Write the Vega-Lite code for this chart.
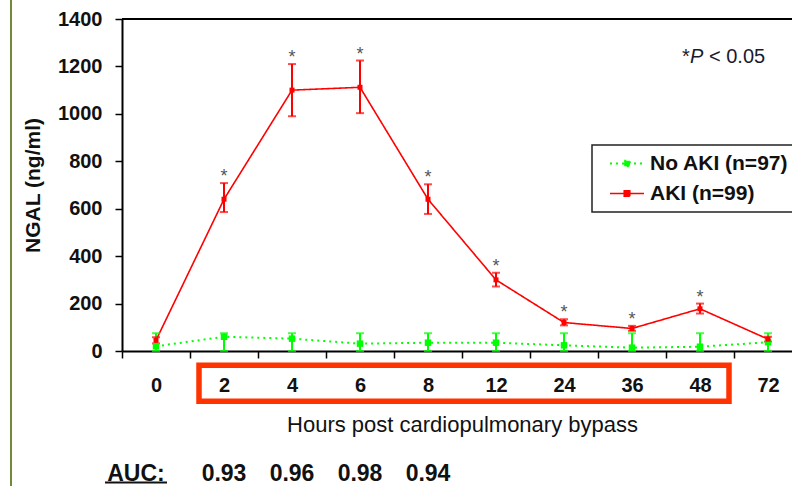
{
  "$schema": "https://vega.github.io/schema/vega-lite/v6.json",
  "width": 670,
  "height": 332,
  "autosize": {"type": "none"},
  "padding": {"left": 122, "top": 19, "right": 0, "bottom": 135},
  "background": "white",
  "config": {
    "font": "Liberation Sans",
    "view": {"stroke": null},
    "legend": {
      "orient": "none",
      "legendX": 470,
      "legendY": 126,
      "title": null,
      "labelFont": "Liberation Sans",
      "labelFontWeight": "bold",
      "labelFontSize": 21,
      "labelColor": "#111111",
      "labelOffset": 29,
      "strokeColor": "#222222",
      "strokeWidth": 1.5,
      "fillColor": "white",
      "padding": 8,
      "rowPadding": 8,
      "symbolSize": 121,
      "symbolStrokeWidth": 1.6
    }
  },
  "datasets": {
    "ngal": [
      {"hour": "0", "group": "AKI (n=99)", "mean": 45, "lo": 32, "hi": 58, "sig": false},
      {"hour": "2", "group": "AKI (n=99)", "mean": 640, "lo": 586, "hi": 708, "sig": true},
      {"hour": "4", "group": "AKI (n=99)", "mean": 1100, "lo": 990, "hi": 1210, "sig": true},
      {"hour": "6", "group": "AKI (n=99)", "mean": 1112, "lo": 1003, "hi": 1225, "sig": true},
      {"hour": "8", "group": "AKI (n=99)", "mean": 640, "lo": 578, "hi": 703, "sig": true},
      {"hour": "12", "group": "AKI (n=99)", "mean": 300, "lo": 272, "hi": 330, "sig": true},
      {"hour": "24", "group": "AKI (n=99)", "mean": 120, "lo": 108, "hi": 134, "sig": true},
      {"hour": "36", "group": "AKI (n=99)", "mean": 95, "lo": 85, "hi": 106, "sig": true},
      {"hour": "48", "group": "AKI (n=99)", "mean": 178, "lo": 158, "hi": 200, "sig": true},
      {"hour": "72", "group": "AKI (n=99)", "mean": 50, "lo": 40, "hi": 60, "sig": false},
      {"hour": "0", "group": "No AKI (n=97)", "mean": 20, "lo": 0, "hi": 75, "sig": false},
      {"hour": "2", "group": "No AKI (n=97)", "mean": 60, "lo": 0, "hi": 75, "sig": false},
      {"hour": "4", "group": "No AKI (n=97)", "mean": 52, "lo": 0, "hi": 75, "sig": false},
      {"hour": "6", "group": "No AKI (n=97)", "mean": 31, "lo": 0, "hi": 75, "sig": false},
      {"hour": "8", "group": "No AKI (n=97)", "mean": 35, "lo": 0, "hi": 75, "sig": false},
      {"hour": "12", "group": "No AKI (n=97)", "mean": 35, "lo": 0, "hi": 75, "sig": false},
      {"hour": "24", "group": "No AKI (n=97)", "mean": 24, "lo": 0, "hi": 75, "sig": false},
      {"hour": "36", "group": "No AKI (n=97)", "mean": 14, "lo": 0, "hi": 75, "sig": false},
      {"hour": "48", "group": "No AKI (n=97)", "mean": 18, "lo": 0, "hi": 75, "sig": false},
      {"hour": "72", "group": "No AKI (n=97)", "mean": 37, "lo": 0, "hi": 75, "sig": false}
    ],
    "auc": [
      {"hour": "2", "auc": "0.93"},
      {"hour": "4", "auc": "0.96"},
      {"hour": "6", "auc": "0.98"},
      {"hour": "8", "auc": "0.94"}
    ]
  },
  "layer": [
    {
      "data": {"name": "ngal"},
      "mark": {"type": "line"},
      "encoding": {
        "x": {
          "field": "hour",
          "type": "ordinal",
          "sort": null,
          "scale": {
            "domain": ["0", "2", "4", "6", "8", "12", "24", "36", "48", "72"],
            "range": [0, 680],
            "paddingInner": 0,
            "paddingOuter": 0
          },
          "axis": {
            "title": "Hours post cardiopulmonary bypass",
            "labelAngle": 0,
            "tickBand": "extent",
            "grid": false,
            "domainColor": "#000000",
            "domainWidth": 2,
            "tickColor": "#000000",
            "tickWidth": 1.5,
            "tickSize": 7,
            "labelFontSize": 20,
            "labelFontWeight": "bold",
            "labelColor": "#111111",
            "labelPadding": 17,
            "titleFontSize": 22,
            "titleFontWeight": "normal",
            "titleColor": "#111111",
            "titlePadding": 19
          }
        },
        "y": {
          "field": "mean",
          "type": "quantitative",
          "scale": {"domain": [0, 1400], "nice": false},
          "axis": {
            "title": "NGAL (ng/ml)",
            "values": [0, 200, 400, 600, 800, 1000, 1200, 1400],
            "format": "d",
            "grid": false,
            "domainColor": "#000000",
            "domainWidth": 2,
            "tickColor": "#000000",
            "tickWidth": 1.5,
            "tickSize": 7,
            "labelFontSize": 20,
            "labelFontWeight": "bold",
            "labelColor": "#111111",
            "labelPadding": 13,
            "titleFontSize": 21,
            "titleFontWeight": "bold",
            "titleColor": "#111111",
            "titlePadding": 14
          }
        },
        "color": {
          "field": "group",
          "type": "nominal",
          "scale": {"domain": ["No AKI (n=97)", "AKI (n=99)"], "range": ["#00FF00", "#FF0000"]},
          "legend": {
            "symbolType": "M-0.09,0H6.09M2.5,-0.5H3.5V0.5H2.5Z",
            "encode": {
              "symbols": {
                "update": {
                  "shape": {"value": "M-0.09,0H6.09M2.5,-0.5H3.5V0.5H2.5Z"},
                  "size": {"value": 121},
                  "fill": {"scale": "color", "field": "value"}
                }
              }
            }
          }
        },
        "strokeDash": {
          "field": "group",
          "type": "nominal",
          "scale": {"domain": ["No AKI (n=97)", "AKI (n=99)"], "range": [[2, 4], [1, 0]]},
          "legend": {
            "symbolType": "M-0.09,0H6.09M2.5,-0.5H3.5V0.5H2.5Z",
            "encode": {
              "symbols": {
                "update": {
                  "shape": {"value": "M-0.09,0H6.09M2.5,-0.5H3.5V0.5H2.5Z"},
                  "size": {"value": 121},
                  "fill": {"scale": "color", "field": "value"}
                }
              }
            }
          }
        },
        "strokeWidth": {
          "field": "group",
          "type": "nominal",
          "scale": {"domain": ["No AKI (n=97)", "AKI (n=99)"], "range": [2, 1.6]},
          "legend": null
        }
      }
    },
    {
      "data": {"name": "ngal"},
      "mark": {"type": "rule", "strokeWidth": 2},
      "encoding": {
        "x": {"field": "hour", "type": "ordinal", "sort": null},
        "y": {"field": "lo", "type": "quantitative"},
        "y2": {"field": "hi"},
        "color": {"field": "group", "type": "nominal"}
      }
    },
    {
      "data": {"name": "ngal"},
      "mark": {"type": "tick", "size": 8, "thickness": 2},
      "encoding": {
        "x": {"field": "hour", "type": "ordinal", "sort": null},
        "y": {"field": "hi", "type": "quantitative"},
        "color": {"field": "group", "type": "nominal"}
      }
    },
    {
      "data": {"name": "ngal"},
      "mark": {"type": "tick", "size": 8, "thickness": 2},
      "encoding": {
        "x": {"field": "hour", "type": "ordinal", "sort": null},
        "y": {"field": "lo", "type": "quantitative"},
        "color": {"field": "group", "type": "nominal"}
      }
    },
    {
      "data": {"name": "ngal"},
      "transform": [{"filter": "datum.group === 'No AKI (n=97)'"}],
      "mark": {"type": "point", "shape": "square", "filled": true, "opacity": 1, "size": 42},
      "encoding": {
        "x": {"field": "hour", "type": "ordinal", "sort": null},
        "y": {"field": "mean", "type": "quantitative"},
        "color": {"field": "group", "type": "nominal"}
      }
    },
    {
      "data": {"name": "ngal"},
      "transform": [{"filter": "datum.group === 'AKI (n=99)'"}],
      "mark": {"type": "point", "shape": "square", "filled": true, "opacity": 1, "size": 25},
      "encoding": {
        "x": {"field": "hour", "type": "ordinal", "sort": null},
        "y": {"field": "mean", "type": "quantitative"},
        "color": {"field": "group", "type": "nominal"}
      }
    },
    {
      "data": {"name": "ngal"},
      "transform": [{"filter": "datum.sig"}],
      "mark": {"type": "text", "text": "*", "fontSize": 18, "baseline": "alphabetic", "dy": -1, "color": "#555555"},
      "encoding": {
        "x": {"field": "hour", "type": "ordinal", "sort": null},
        "y": {"field": "hi", "type": "quantitative"}
      }
    },
    {
      "data": {"values": [{}]},
      "mark": {"type": "rule", "color": "#000000", "strokeWidth": 2},
      "encoding": {"y": {"datum": 1400, "type": "quantitative"}}
    },
    {
      "data": {"values": [{}]},
      "mark": {"type": "text", "text": "*", "align": "left", "baseline": "middle", "dx": -86, "fontSize": 20, "color": "#1a1a2e"},
      "encoding": {"x": {"datum": "72", "type": "ordinal"}, "y": {"datum": 1240, "type": "quantitative"}}
    },
    {
      "data": {"values": [{}]},
      "mark": {"type": "text", "text": "P", "align": "left", "baseline": "middle", "dx": -78, "fontSize": 20, "fontStyle": "italic", "color": "#1a1a2e"},
      "encoding": {"x": {"datum": "72", "type": "ordinal"}, "y": {"datum": 1240, "type": "quantitative"}}
    },
    {
      "data": {"values": [{}]},
      "mark": {"type": "text", "text": "< 0.05", "align": "left", "baseline": "middle", "dx": -59, "fontSize": 20, "color": "#1a1a2e"},
      "encoding": {"x": {"datum": "72", "type": "ordinal"}, "y": {"datum": 1240, "type": "quantitative"}}
    },
    {
      "data": {"values": [{}]},
      "mark": {"type": "rect", "fill": null, "stroke": "#FF3300", "strokeWidth": 5.5, "xOffset": -25, "x2Offset": 29},
      "encoding": {
        "x": {"datum": "2", "type": "ordinal"},
        "x2": {"datum": "48"},
        "y": {"datum": -60, "type": "quantitative"},
        "y2": {"datum": -212}
      }
    },
    {
      "data": {"name": "auc"},
      "mark": {"type": "text", "fontSize": 23, "fontWeight": "bold", "baseline": "middle", "dy": 2, "color": "#111111"},
      "encoding": {
        "x": {"field": "hour", "type": "ordinal", "sort": null},
        "y": {"datum": -512, "type": "quantitative"},
        "text": {"field": "auc"}
      }
    },
    {
      "data": {"values": [{}]},
      "mark": {"type": "text", "text": "AUC:", "fontSize": 23, "fontWeight": "bold", "baseline": "middle", "dx": -20, "dy": 2, "color": "#111111"},
      "encoding": {"x": {"datum": "0", "type": "ordinal"}, "y": {"datum": -512, "type": "quantitative"}}
    },
    {
      "data": {"values": [{}]},
      "mark": {"type": "rule", "strokeWidth": 2, "color": "#111111", "xOffset": -51, "x2Offset": 11},
      "encoding": {
        "x": {"datum": "0", "type": "ordinal"},
        "x2": {"datum": "0"},
        "y": {"datum": -554, "type": "quantitative"}
      }
    },
    {
      "data": {"values": [{}]},
      "mark": {"type": "rule", "strokeWidth": 2, "color": "#6f8a3a", "xOffset": -145},
      "encoding": {
        "x": {"datum": "0", "type": "ordinal"},
        "y": {"datum": 1500, "type": "quantitative"},
        "y2": {"datum": -600}
      }
    }
  ]
}
